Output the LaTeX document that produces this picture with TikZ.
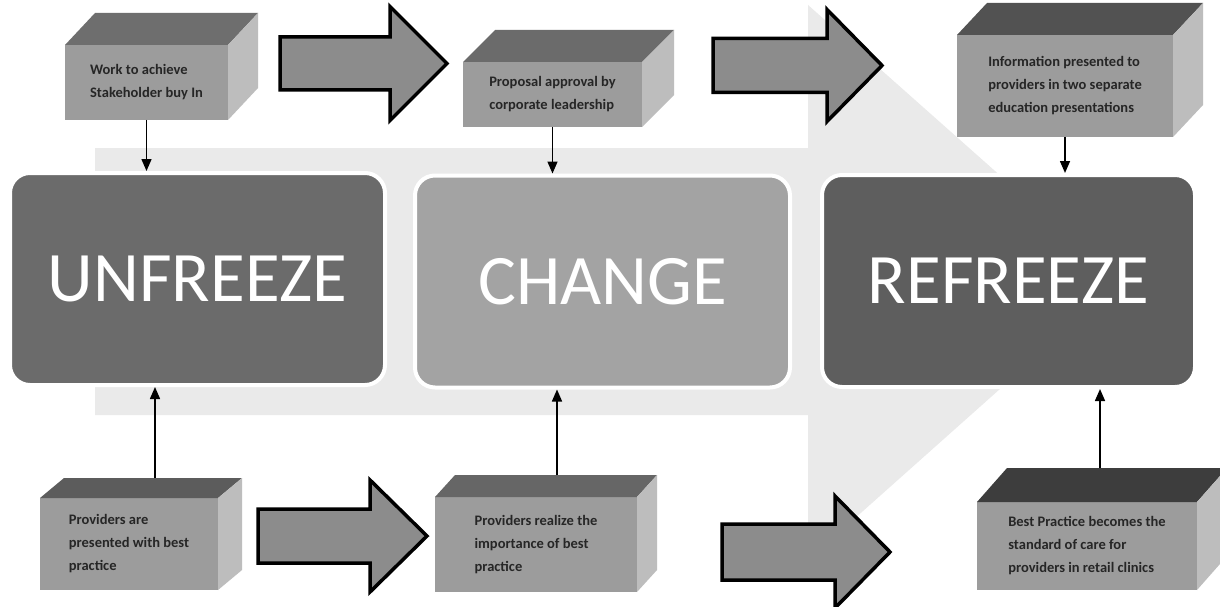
\documentclass[tikz,border=0pt]{standalone}
\usepackage{fontspec}
\setmainfont{Carlito}
\usetikzlibrary{arrows.meta,calc}
\definecolor{bgarr}{HTML}{EAEAEA}
\definecolor{unfc}{HTML}{6B6B6B}
\definecolor{chgc}{HTML}{A3A3A3}
\definecolor{refc}{HTML}{5E5E5E}
\definecolor{frontc}{HTML}{9C9C9C}
\definecolor{sidec}{HTML}{BDBDBD}
\definecolor{arrfill}{HTML}{8C8C8C}
\newcommand\mycuboid[9]{%
  \fill[#8] ($(#1.north west)$) -- (#1.north east) -- ++(#6,-#7) -- ($(#1.north west)+(#6,-#7)$) -- cycle;
  \fill[sidec] (#1.north east) -- ++(#6,-#7) -- ($(#1.south east)+(#6,-#7)$) -- (#1.south east) -- cycle;
}
\newcommand\myblockarrow[6]{%
  \filldraw[blockarr] ({#1},{#4-#5}) -- ({#2},{#4-#5}) -- ({#2},{#4-#6}) -- ({#3},{#4}) -- ({#2},{#4+#6}) -- ({#2},{#4+#5}) -- ({#1},{#4+#5}) -- cycle;
}
\begin{document}
\begin{tikzpicture}[x=1pt,y=-1pt,
  face/.style={rectangle, fill=frontc, inner sep=0pt, outer sep=0pt, align=left,
    font=\bfseries\fontsize{14.5}{23}\selectfont, text=black!85},
  bigbox/.style={rectangle, rounded corners=20pt, fill=#1, draw=white, line width=4pt,
    text=white, font=\fontsize{71}{80}\selectfont, minimum height=212pt},
  link/.style={draw=black, line width=1.5pt, -{Triangle[length=12pt,width=10pt]}},
  blockarr/.style={fill=arrfill, draw=black, line width=3.5pt, line join=miter}
]
\useasboundingbox (0,0) rectangle (1220,607);
\fill[white] (0,0) rectangle (1220,607);

% background arrow
\fill[bgarr] (95,148) -- (808,148) -- (808,5) -- (1120,282) -- (808,560) -- (808,415) -- (95,415) -- cycle;

% main stages
\node[bigbox=unfc, minimum width=375pt] (unfreeze) at (197.5,279) {UNFREEZE};
\node[bigbox=chgc, minimum width=375pt] (change) at (602.5,281.5) {CHANGE};
\node[bigbox=refc, minimum width=373pt] (refreeze) at (1008.5,281) {REFREEZE};

% cuboids (front faces)
\node[face, minimum width=163pt, minimum height=75pt] (b1) at (146.5,82.5) {Work to achieve\\Stakeholder buy In};
\mycuboid{b1}{}{}{}{}{30}{32}{black!57}{}
\node[face, minimum width=179pt, minimum height=65pt] (b2) at (552.5,94.5) {Proposal approval by\\corporate leadership};
\mycuboid{b2}{}{}{}{}{32}{32}{black!58}{}
\node[face, minimum width=216pt, minimum height=102pt] (b3) at (1065,86) {Information presented to\\providers in two separate\\education presentations};
\mycuboid{b3}{}{}{}{}{30}{32}{black!68}{}
\node[face, minimum width=178pt, minimum height=92pt] (b4) at (129,544) {Providers are\\presented with best\\practice};
\mycuboid{b4}{}{}{}{}{24}{20}{black!64}{}
\node[face, minimum width=202pt, minimum height=95pt] (b5) at (536,544.5) {Providers realize the\\importance of best\\practice};
\mycuboid{b5}{}{}{}{}{20}{22}{black!60}{}
\node[face, minimum width=220pt, minimum height=88pt] (b6) at (1087,546) {Best Practice becomes the\\standard of care for\\providers in retail clinics};
\mycuboid{b6}{}{}{}{}{30}{34}{black!76}{}

% block arrows
\myblockarrow{280}{390}{447}{63.5}{26.5}{57}
\myblockarrow{713}{827}{882}{65.5}{27}{56}
\myblockarrow{258}{370}{427}{536}{27}{56}
\myblockarrow{722}{835}{890}{552}{28}{56}

% connectors
\draw[link] (b1.south) -- (b1.south |- unfreeze.north);
\draw[link] (b2.south) -- (b2.south |- change.north);
\draw[link] (b3.south) -- (b3.south |- refreeze.north);
\coordinate (t4) at (155,478);
\coordinate (t5) at (557,475);
\coordinate (t6) at (1100,468);
\draw[link] (t4) -- (t4 |- unfreeze.south);
\draw[link] (t5) -- (t5 |- change.south);
\draw[link] (t6) -- (t6 |- refreeze.south);
\end{tikzpicture}
\end{document}
